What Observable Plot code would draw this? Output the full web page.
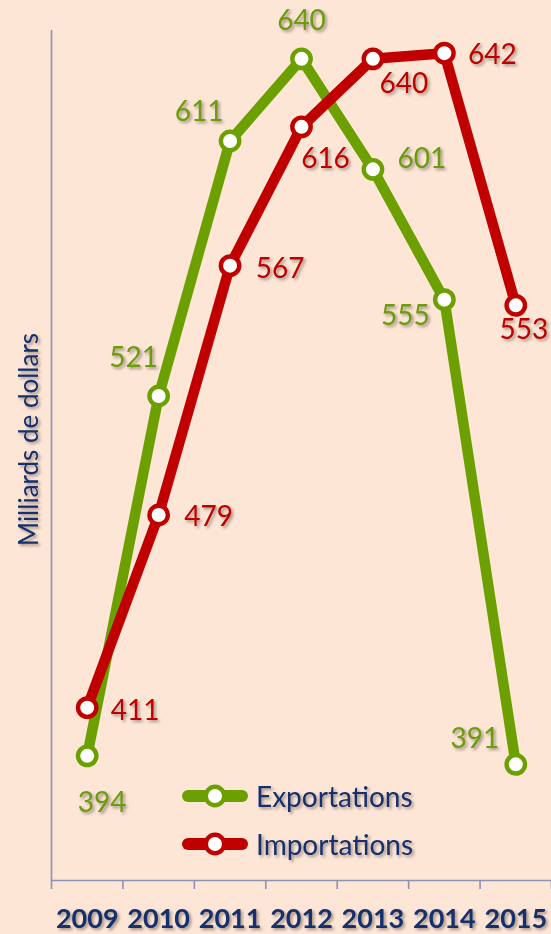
<!DOCTYPE html>
<html>
<head>
<meta charset="utf-8">
<script src="https://cdn.jsdelivr.net/npm/d3@7"></script>
<script src="https://cdn.jsdelivr.net/npm/@observablehq/plot@0.6"></script>
<style>
  html, body { margin: 0; padding: 0; background: #fde6d6; }
  #wrap { position: relative; width: 551px; height: 934px; overflow: hidden; }
  .shadow { filter: drop-shadow(2px 2px 1.5px rgba(60,40,30,0.45)); }
  #legend { position: absolute; left: 180px; top: 772px; font-family: Lato, "Open Sans", sans-serif; }
  #legend .row { display: flex; align-items: center; height: 48px; }
  #legend .lab { font-size: 28px; color: #14306e; margin-left: 8px; filter: drop-shadow(2px 2px 1.5px rgba(60,40,30,0.45)); }
</style>
</head>
<body>
<div id="wrap"></div>
<script>
// ---- data ----
const years = [2009, 2010, 2011, 2012, 2013, 2014, 2015];
const exportations = [394, 521, 611, 640, 601, 555, 391];
const importations = [411, 479, 567, 616, 640, 642, 553];
const seriesNames = ["Exportations", "Importations"];
const yLabel = "Milliards de dollars";

// ---- styles ----
const colors = {Exportations: "#6ca000", Importations: "#c00000"};
const textColors = {Exportations: "#6a9d0c", Importations: "#c00000"};
const navy = "#14306e";
const axisColor = "#8e92b2";
// label offsets (px) relative to each point, by series and year index
const labelOffsets = {
  Exportations: [[15, 47], [-25, -38], [-31, -29], [0, -38], [49, -10], [-39, 16], [-41, -25]],
  Importations: [[48, 3], [50, 2], [50, 3], [24, 32], [31, 25], [48, 2], [8, 25]]
};

const rows = [];
years.forEach((yr, i) => {
  rows.push({year: yr, value: exportations[i], series: "Exportations", i});
  rows.push({year: yr, value: importations[i], series: "Importations", i});
});
const boundaries = [years[0] - 0.5, ...years.map(y => y + 0.5)];

const marks = [
  Plot.axisX(boundaries, {tickSize: 9, tickFormat: () => "", label: null, stroke: axisColor, strokeWidth: 1.6, strokeOpacity: 1}),
  Plot.ruleY([350], {stroke: axisColor, strokeWidth: 1.6}),
  Plot.ruleX([years[0] - 0.5], {stroke: axisColor, strokeWidth: 1.6})
];

for (const s of seriesNames) {
  const data = rows.filter(r => r.series === s);
  marks.push(Plot.line(data, {x: "year", y: "value", stroke: colors[s], strokeWidth: 10.5, strokeLinejoin: "round", strokeLinecap: "round"}));
  marks.push(Plot.dot(data, {x: "year", y: "value", r: 9.2, fill: "white", stroke: colors[s], strokeWidth: 4.4}));
}
for (const s of seriesNames) {
  const data = rows.filter(r => r.series === s);
  data.forEach((d, k) => {
    const [dx, dy] = labelOffsets[s][k];
    marks.push(Plot.text([d], {x: "year", y: "value", text: d => String(d.value), dx, dy,
      fill: textColors[s], fontSize: 28, textAnchor: "middle", lineAnchor: "middle", className: "shadow"}));
  });
}
marks.push(Plot.text(years, {x: d => d, frameAnchor: "bottom", text: d => String(d), dy: 39,
  fill: navy, fontSize: 27, fontWeight: "bold", lineAnchor: "middle", className: "shadow"}));
marks.push(Plot.text([yLabel], {frameAnchor: "left", text: d => d, rotate: -90, dx: -22, dy: -16,
  fill: navy, fontSize: 26, textAnchor: "middle", lineAnchor: "middle", className: "shadow"}));

const chart = Plot.plot({
  width: 551,
  height: 934,
  marginLeft: 51,
  marginRight: 0,
  marginTop: 30,
  marginBottom: 54,
  style: {background: "#fde6d6", fontFamily: "Lato, 'Open Sans', sans-serif", overflow: "visible"},
  x: {type: "linear", domain: [years[0] - 0.5, years[years.length - 1] + 0.5], label: null},
  y: {domain: [350, 650], axis: null},
  marks
});
document.getElementById("wrap").appendChild(chart);

// legend
const legend = document.createElement("div");
legend.id = "legend";
for (const s of seriesNames) {
  const row = document.createElement("div");
  row.className = "row";
  const sw = d3.create("svg").attr("width", 68).attr("height", 30);
  sw.append("line").attr("x1", 8).attr("x2", 62).attr("y1", 15).attr("y2", 15)
    .attr("stroke", colors[s]).attr("stroke-width", 12).attr("stroke-linecap", "round");
  sw.append("circle").attr("cx", 35).attr("cy", 15).attr("r", 9.2).attr("fill", "white")
    .attr("stroke", colors[s]).attr("stroke-width", 4.4);
  row.appendChild(sw.node());
  const lab = document.createElement("span");
  lab.className = "lab";
  lab.textContent = s;
  row.appendChild(lab);
  legend.appendChild(row);
}
document.getElementById("wrap").appendChild(legend);
</script>
</body>
</html>
